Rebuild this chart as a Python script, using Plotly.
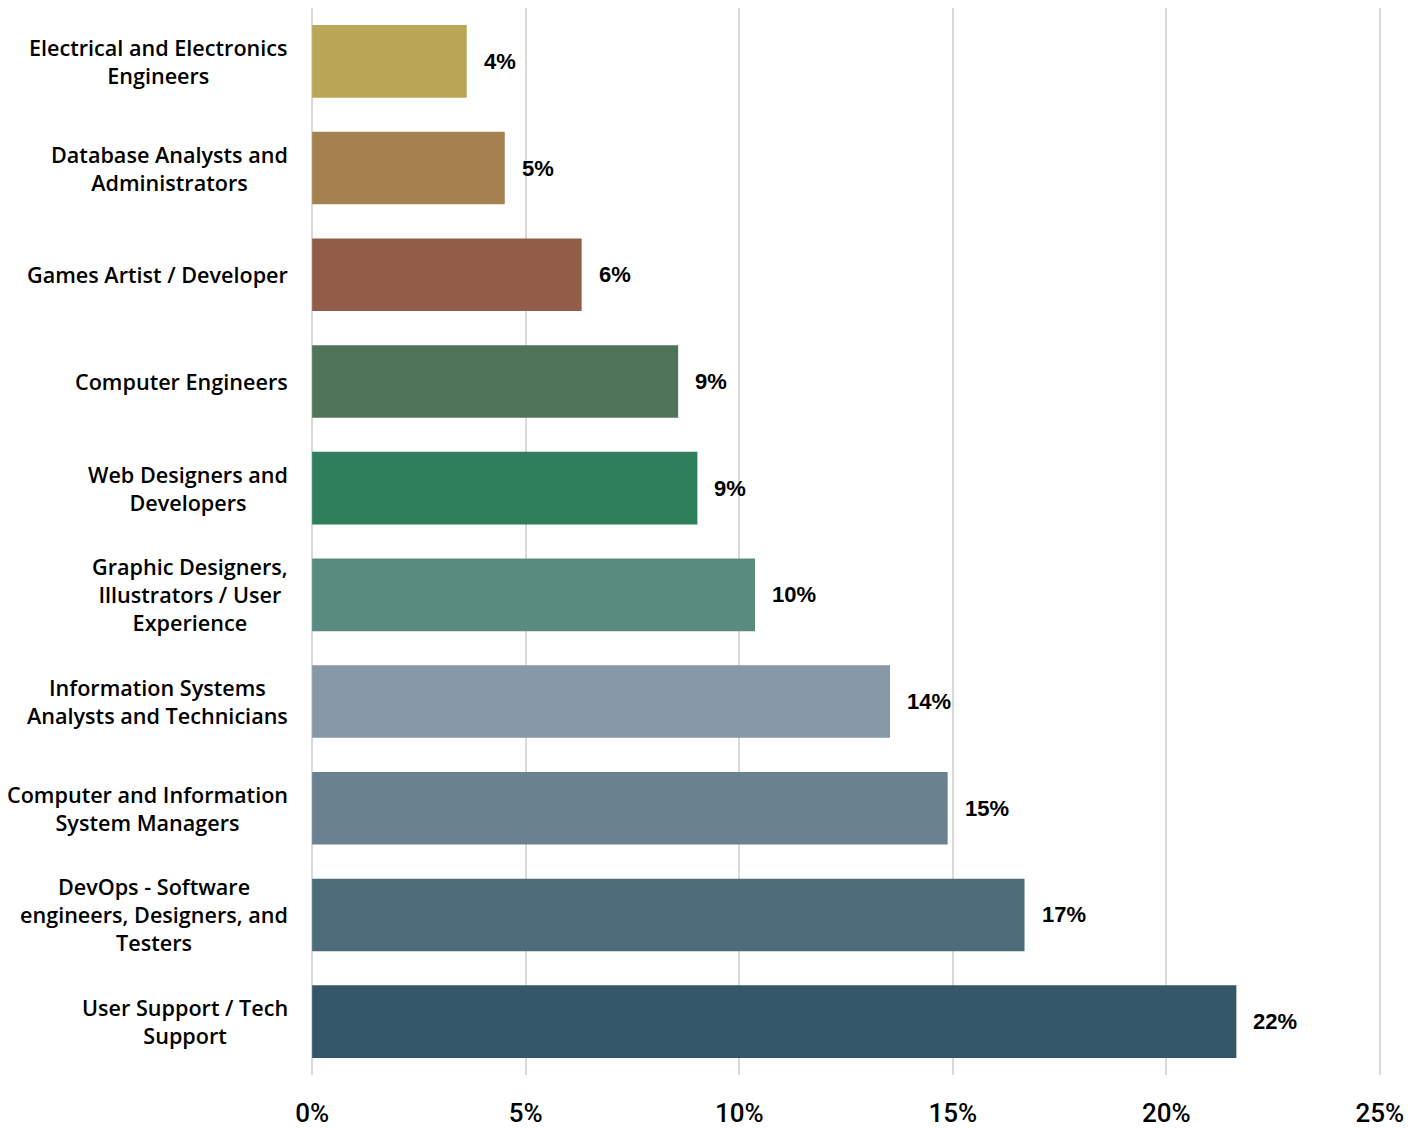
import plotly.graph_objects as go

categories = [
    "Electrical and Electronics<br>Engineers",
    "Database Analysts and<br>Administrators",
    "Games Artist / Developer",
    "Computer Engineers",
    "Web Designers and<br>Developers",
    "Graphic Designers,<br>Illustrators / User<br>Experience",
    "Information Systems<br>Analysts and Technicians",
    "Computer and Information<br>System Managers",
    "DevOps - Software<br>engineers, Designers, and<br>Testers",
    "User Support / Tech<br>Support",
]
values = [3.62, 4.51, 6.31, 8.57, 9.02, 10.37, 13.53, 14.88, 16.68, 21.64]
colors = ["#B9A757", "#A6814F", "#935C48", "#507457", "#2D805B",
          "#5A8B7F", "#8697A6", "#6A818F", "#4C6C7A", "#335768"]
tick_vals = [0, 5, 10, 15, 20, 25]
tick_text = ["0%", "5%", "10%", "15%", "20%", "25%"]

fig = go.Figure()
fig.add_trace(go.Bar(
    x=values, y=categories, orientation="h",
    marker=dict(color=colors, line=dict(width=0)),
    hoverinfo="skip",
))

annotations = []
for c, v in zip(categories, values):
    annotations.append(dict(
        x=v, y=c, xref="x", yref="y", xanchor="left", yanchor="middle",
        xshift=15, text=f"{round(v):.0f}%", showarrow=False,
        font=dict(family="Liberation Sans", size=22, color="#000000", weight="bold"),
    ))
    annotations.append(dict(
        x=0, y=c, xref="paper", yref="y", xanchor="right", yanchor="middle",
        xshift=-20, text=c, showarrow=False, align="center",
        font=dict(family="Open Sans", size=21.6, color="#000000", weight=600),
    ))

fig.update_layout(
    width=1419, height=1120,
    margin=dict(l=302, r=45, t=0, b=53, autoexpand=False),
    paper_bgcolor="white", plot_bgcolor="white",
    bargap=0.32,
    showlegend=False,
    annotations=annotations,
    xaxis=dict(
        range=[-0.05, 25.05], tickvals=tick_vals, ticktext=tick_text,
        showgrid=True, gridcolor="#D9D9D9", gridwidth=2,
        zeroline=False, showline=False, ticks="", automargin=False,
        ticklabelstandoff=20,
        tickfont=dict(family="Roboto", size=26, color="#000000", weight=500),
    ),
    yaxis=dict(
        autorange="reversed", showticklabels=False, showgrid=False,
        zeroline=False, showline=False, ticks="", automargin=False,
    ),
)

fig.write_html("out.html")
